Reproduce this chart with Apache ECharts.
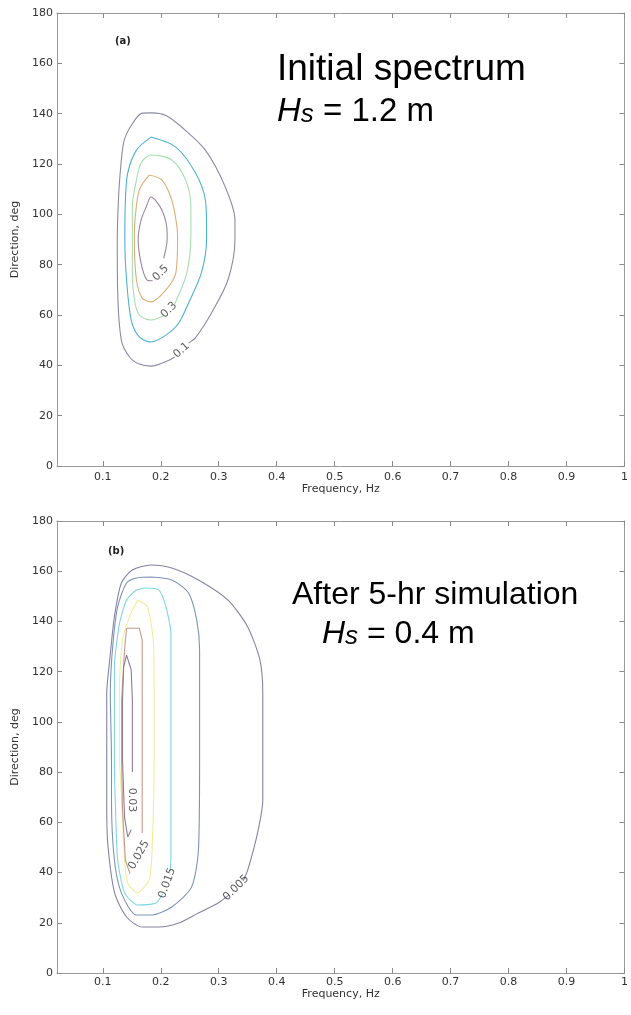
<!DOCTYPE html>
<html>
<head>
<meta charset="utf-8">
<script src="https://cdn.jsdelivr.net/npm/echarts@6/dist/echarts.min.js"></script>
<style>html,body{margin:0;padding:0;background:#fff}#c{width:631px;height:1015px}</style>
</head>
<body>
<div id="c"></div>
<script>
// ---- tick labels ----
const freqTicks = [0.1,0.2,0.3,0.4,0.5,0.6,0.7,0.8,0.9,1];
const dirMin = 0, dirMax = 180, dirStep = 20;

// ---- panel (a): initial spectrum contours [frequency Hz, direction deg] ----
const levelsA = ['0.1','0.2','0.3','0.4','0.5'];
const colorsA = ['#8a8aa6','#4fb0d0','#a6dfb0','#dcae78','#9a86a0'];
const a01 = [[0.224,43.3],[0.214,42],[0.183,39.7],[0.163,40.5],[0.146,43.3],[0.132,50],[0.1256,70],[0.125,90],[0.127,105.7],[0.131,119],[0.137,129.5],[0.151,136],[0.168,140.2],[0.184,140.3],[0.209,139.3],[0.236,134.7],[0.277,125.5],[0.311,111],[0.328,97.7],[0.328,90],[0.316,74],[0.288,61],[0.26,51],[0.248,48.9]];
const a02 = [[0.183,130.7],[0.226,126.7],[0.26,116.4],[0.277,105.7],[0.279,95],[0.279,90],[0.27,76.7],[0.248,64.8],[0.231,56.8],[0.209,52],[0.183,49.3],[0.163,51.3],[0.149,58],[0.141,74],[0.138,90],[0.139,105.7],[0.143,116.4],[0.158,125.5],[0.183,130.7]];
const a03 = [[0.204,59.6],[0.183,58],[0.163,60],[0.1545,66],[0.151,76.7],[0.151,90],[0.151,103],[0.158,113.6],[0.166,120.4],[0.183,123.6],[0.219,121.6],[0.243,113.6],[0.252,103],[0.252,92.6],[0.245,76.7],[0.224,64.4]];
const a04 = [[0.18,115.6],[0.202,113.6],[0.219,105.7],[0.228,95],[0.229,90],[0.226,76.7],[0.209,70],[0.183,65.2],[0.168,66.7],[0.158,74],[0.1545,90],[0.1555,97.7],[0.163,109.7],[0.18,115.6]];
const a05 = [[0.186,73.6],[0.176,74],[0.166,80.6],[0.161,90],[0.166,97.7],[0.175,103],[0.183,106.9],[0.202,101.7],[0.211,92.6],[0.211,90],[0.205,82.5]];
const labelsA = [[0.2,76.7,'0.5',45],[0.214,62,'0.3',45],[0.236,46,'0.1',42]];

// ---- panel (b): after 5-hr simulation ----
const levelsB = ['0.005','0.01','0.015','0.02','0.025','0.03'];
const colorsB = ['#8484a4','#7d93b5','#7fd6e0','#eeee9a','#c49a8c','#8c7a98'];
const b005 = [[0.318,31.1],[0.299,27.9],[0.265,23.9],[0.231,19.9],[0.197,18.3],[0.168,18.3],[0.141,22.3],[0.1204,31.9],[0.1085,51.8],[0.1068,67.7],[0.1068,84.8],[0.1068,111.5],[0.112,124.7],[0.12,141.8],[0.132,155.3],[0.151,160.5],[0.1835,162.5],[0.219,161.3],[0.265,156.5],[0.316,148.5],[0.35,137.8],[0.371,124.7],[0.376,111.5],[0.376,84.8],[0.376,68.9],[0.367,55.8],[0.35,41],[0.342,36.6]];
const b010 = [[0.183,157.7],[0.219,156.5],[0.248,151.3],[0.262,140.6],[0.267,128.6],[0.267,108.7],[0.267,84.8],[0.265,49],[0.253,34.2],[0.219,26.3],[0.183,23.1],[0.158,23.1],[0.132,31.9],[0.12,45],[0.115,68.9],[0.115,84.8],[0.113,111.5],[0.117,129.8],[0.1256,145.8],[0.141,155.3],[0.158,157.3],[0.183,157.7]];
const b015 = [[0.203,31.5],[0.192,27.9],[0.16,27.1],[0.1375,31.9],[0.1256,45],[0.122,64.9],[0.12,84.8],[0.12,121.9],[0.129,139.4],[0.141,148.5],[0.158,152.5],[0.175,153.3],[0.197,152.5],[0.209,145.8],[0.2175,135.4],[0.2175,108.7],[0.2175,84.8],[0.2175,45],[0.216,40.5]];
const b020 = [[0.16,148.5],[0.177,145.8],[0.187,132.6],[0.1886,108.7],[0.1886,84.8],[0.185,49],[0.18,37],[0.16,31.9],[0.143,35.8],[0.1375,45],[0.132,71.7],[0.129,84.8],[0.129,115.5],[0.134,132.6],[0.146,141.8],[0.16,148.5]];
const b025 = [[0.147,39.5],[0.139,45],[0.134,64.9],[0.1325,84.8],[0.1325,108.7],[0.1375,128.6],[0.141,137.3],[0.163,137.3],[0.168,132.6],[0.168,84.8],[0.168,55.8]];
const b030 = [[0.149,57],[0.143,54.2],[0.1375,62.1],[0.134,84.8],[0.134,108.7],[0.136,121.9],[0.141,126.6],[0.149,120.7],[0.151,108.7],[0.151,84.8],[0.151,80]];
const labelsB = [[0.151,68.9,'0.03',-90],[0.1625,47,'0.025',60],[0.211,35.8,'0.015',70],[0.33,33.9,'0.005',45]];

const contoursA = [a01,a02,a03,a04,a05];
const contoursB = [b005,b010,b015,b020,b025,b030];
const smoothB = [0.25,0.25,0.2,0.2,0,0];

const chart = echarts.init(document.getElementById('c'), null, {renderer:'canvas'});
const FONT = 'DejaVu Sans';
const axisColor = '#9a9a9a';
const tickCol = '#8a8a8a';

function xAxes(gi, margin, gap){
  return [{
    type:'value', gridIndex:gi, min:0.021, max:1, position:'bottom',
    name:'Frequency, Hz', nameLocation:'middle', nameGap:gap,
    nameTextStyle:{fontFamily:FONT, fontSize:11, color:'#333'},
    axisLine:{show:true, onZero:false, lineStyle:{color:axisColor, width:1}},
    axisTick:{show:true, inside:true, length:5, customValues:freqTicks, lineStyle:{color:tickCol}},
    axisLabel:{customValues:freqTicks, margin:margin, fontFamily:FONT, fontSize:11, color:'#333',
      formatter:v=>String(Math.round(v*10)/10)},
    splitLine:{show:false}
  },{
    type:'value', gridIndex:gi, min:0.021, max:1, position:'top',
    axisLine:{show:true, onZero:false, lineStyle:{color:axisColor, width:1}},
    axisTick:{show:true, inside:true, length:5, customValues:freqTicks, lineStyle:{color:tickCol}},
    axisLabel:{show:false}, splitLine:{show:false}
  }];
}
function yAxes(gi){
  return [{
    type:'value', gridIndex:gi, min:dirMin, max:dirMax, interval:dirStep, position:'left',
    name:'Direction, deg', nameLocation:'middle', nameGap:36, nameRotate:90,
    nameTextStyle:{fontFamily:FONT, fontSize:11, color:'#333'},
    axisLine:{show:true, onZero:false, lineStyle:{color:axisColor, width:1}},
    axisTick:{show:true, inside:true, length:5, lineStyle:{color:tickCol}},
    axisLabel:{margin:4, fontFamily:FONT, fontSize:11, color:'#333'},
    splitLine:{show:false}
  },{
    type:'value', gridIndex:gi, min:dirMin, max:dirMax, interval:dirStep, position:'right',
    axisLine:{show:true, onZero:false, lineStyle:{color:axisColor, width:1}},
    axisTick:{show:true, inside:true, length:5, lineStyle:{color:tickCol}},
    axisLabel:{show:false}, splitLine:{show:false}
  }];
}

const series = [];
function addContours(list, colors, xi, yi, smooth){
  list.forEach((pts,i)=>{
    series.push({type:'line', xAxisIndex:xi, yAxisIndex:yi, data:pts, showSymbol:false, symbol:'none',
      smooth:Array.isArray(smooth)?smooth[i]:smooth, lineStyle:{color:colors[i], width:1.1}, silent:true, animation:false, z:2});
  });
}
function addLabels(labels, xi, yi){
  series.push({type:'scatter', xAxisIndex:xi, yAxisIndex:yi, symbolSize:1, itemStyle:{color:'rgba(0,0,0,0)'},
    animation:false, silent:true, z:3,
    data:labels.map(l=>({value:[l[0],l[1]], label:{show:true, position:'inside', formatter:l[2], rotate:l[3],
      fontFamily:FONT, fontSize:11, color:'#333'}}))});
}
addContours(contoursA, colorsA, 0, 0, 0.3);
addLabels(labelsA, 0, 0);
addContours(contoursB, colorsB, 2, 2, smoothB);
addLabels(labelsB, 2, 2);

const HS = (size, val)=>({
  text:'{i|H}{s|s}{n| = '+val+' m}',
  rich:{
    i:{fontFamily:'Liberation Sans', fontStyle:'italic', fontSize:size, color:'#000', verticalAlign:'bottom'},
    s:{fontFamily:'Liberation Sans', fontStyle:'italic', fontSize:Math.round(size*0.8), color:'#000', verticalAlign:'bottom'},
    n:{fontFamily:'Liberation Sans', fontSize:size, color:'#000', verticalAlign:'bottom'}
  }
});

chart.setOption({
  animation:false,
  grid:[
    {left:57, right:4, top:13, height:453, containLabel:false},
    {left:57, right:4, top:521, height:452, containLabel:false}
  ],
  xAxis:[...xAxes(0,6,12), ...xAxes(1,4,15)],
  yAxis:[...yAxes(0), ...yAxes(1)],
  series:series,
  graphic:[
    {type:'text', left:115, top:36, style:{text:'(a)', fontFamily:FONT, fontWeight:'bold', fontSize:10, fill:'#222'}},
    {type:'text', left:108, top:546, style:{text:'(b)', fontFamily:FONT, fontWeight:'bold', fontSize:10, fill:'#222'}},
    {type:'text', left:277, top:51, style:{text:'Initial spectrum', fontFamily:'Liberation Sans', fontSize:37, fill:'#000'}},
    {type:'text', left:277, top:95, style:HS(33,'1.2')},
    {type:'text', left:292, top:579, style:{text:'After 5-hr simulation', fontFamily:'Liberation Sans', fontSize:32, fill:'#000'}},
    {type:'text', left:322, top:618, style:HS(32,'0.4')}
  ]
});
</script>
</body>
</html>
